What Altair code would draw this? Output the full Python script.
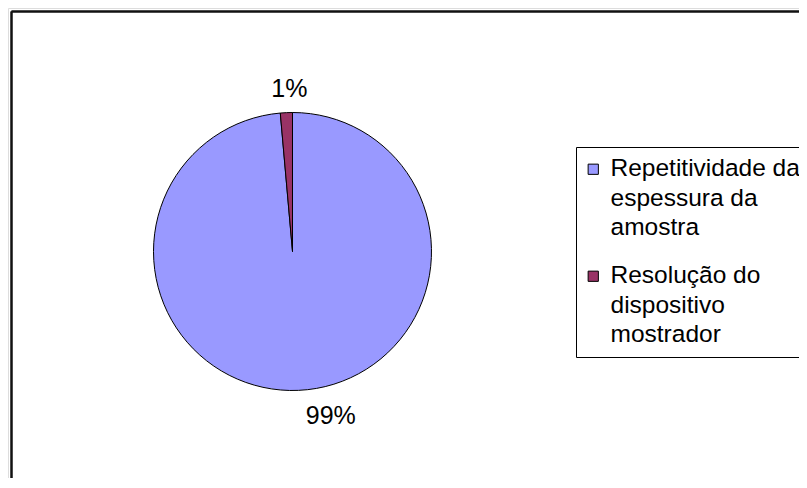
import altair as alt
import pandas as pd

categories = ["Repetitividade da espessura da amostra", "Resolução do dispositivo mostrador"]
values = [98.6, 1.4]
labels = ["99%", "1%"]
legend_lines = [["Repetitividade da", "espessura da", "amostra"], ["Resolução do", "dispositivo", "mostrador"]]
colors = ["#9999FF", "#993366"]

df = pd.DataFrame({"cat": categories, "val": values, "lab": labels, "idx": list(range(len(categories)))})

label_expr = " : ".join(
    [f"datum.label == '{c}' ? {lines!r}" for c, lines in zip(categories, legend_lines)] + ["datum.label"]
)

CX, CY, R = 284.5, 243.5, 139
FONT = "Liberation Sans"
FS = 25

base = alt.Chart(df).encode(
    theta=alt.Theta("val:Q", stack=True),
    order=alt.Order("idx:Q"),
)

pie = base.mark_arc(radius=R, stroke="black", strokeWidth=1).encode(
    x=alt.value(CX),
    y=alt.value(CY),
    color=alt.Color(
        "cat:N",
        scale=alt.Scale(domain=categories, range=colors),
        legend=alt.Legend(
            title=None,
            orient="none",
            legendX=568,
            legendY=139,
            direction="vertical",
            strokeColor="black",
            fillColor="white",
            padding=10,
            symbolType="square",
            symbolSize=105,
            symbolOffset=-5,
            symbolStrokeColor="black",
            symbolStrokeWidth=1,
            labelFontSize=24.5,
            labelFont=FONT,
            labelColor="black",
            labelLimit=0,
            labelOffset=5,
            rowPadding=23,
            labelExpr=label_expr,
        ),
    ),
)

txt_big = base.mark_text(radius=165, fontSize=FS, font=FONT, color="black", align="left", dx=6).encode(
    x=alt.value(CX), y=alt.value(CY), text=alt.condition(alt.datum.idx == 0, "lab:N", alt.value(""))
)

txt_small = base.mark_text(radius=163, fontSize=FS, font=FONT, color="black", align="center", dx=4).encode(
    x=alt.value(CX), y=alt.value(CY), text=alt.condition(alt.datum.idx == 1, "lab:N", alt.value(""))
)

border_left = alt.Chart(df).mark_rule(color="#111111", strokeWidth=2).encode(
    x=alt.value(3.5), y=alt.value(3.5), y2=alt.value(480)
)
border_top = alt.Chart(df).mark_rule(color="#111111", strokeWidth=2).encode(
    x=alt.value(3.5), x2=alt.value(800), y=alt.value(3.5)
)

chart = alt.layer(border_left, border_top, pie, txt_big, txt_small).properties(
    width=791, height=470, autosize="none", padding=0
).configure_view(stroke=None).configure(style={"guide-label": {"lineHeight": 29.5}})

chart.save("out.html", embed_options={"renderer": "svg", "actions": False})
